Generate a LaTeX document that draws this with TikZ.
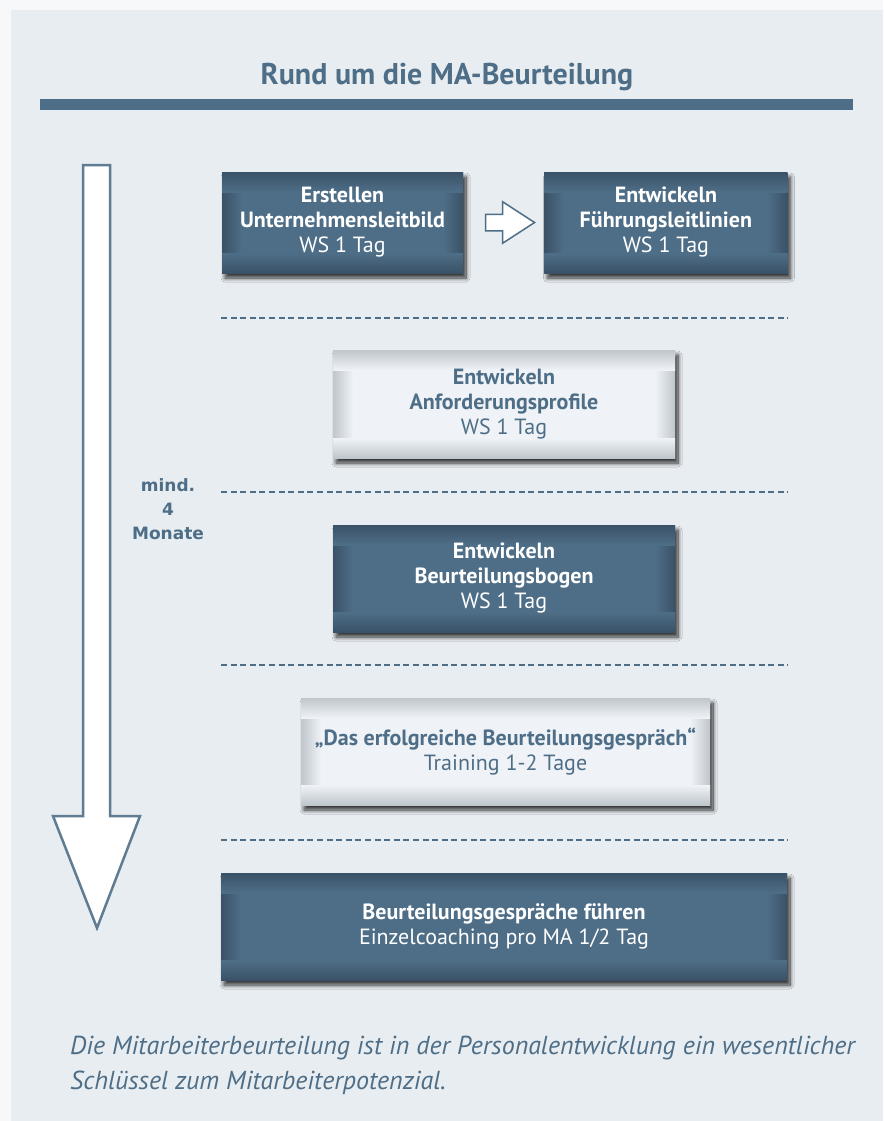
\documentclass[tikz,border=0pt]{standalone}
\usepackage{fontspec}
\setmainfont{PT Sans}
\newfontfamily\monatefont{DejaVu Sans}
\usetikzlibrary{positioning}
\usetikzlibrary{calc}
\usetikzlibrary{shapes.arrows}
\usetikzlibrary{shadows.blur}
\definecolor{slate}{HTML}{4E6E87}
\definecolor{slatedark}{HTML}{3A5267}
\definecolor{panel}{HTML}{E8EDF1}
\definecolor{outerbg}{HTML}{F6F8FA}
\definecolor{lightbox}{HTML}{EFF3F7}
\definecolor{lightedge}{HTML}{BFC6CC}
\tikzset{
  bevel/.style 2 args={path picture={
      \path (path picture bounding box.south west) coordinate (ppsw)
            (path picture bounding box.north east) coordinate (ppne);
      \shade[left color=#1,right color=#2] (ppsw) rectangle ($(ppsw |- ppne)+(20pt,0pt)$);
      \shade[left color=#2,right color=#1] ($(ppne |- ppsw)+(-20pt,0pt)$) rectangle (ppne);
      \shade[top color=#1,bottom color=#2] ($(ppsw |- ppne)+(0pt,-20pt)$) rectangle (ppne);
      \shade[top color=#2,bottom color=#1] (ppsw) rectangle ($(ppne |- ppsw)+(0pt,20pt)$);
  }},
  dark box/.style={rectangle,fill=slate,bevel={slatedark}{slate},text=white,align=center,inner sep=0pt,
    font=\fontsize{22}{25}\selectfont,
    blur shadow={shadow xshift=3pt,shadow yshift=-5pt,shadow blur steps=10,shadow blur radius=4pt,shadow opacity=80}},
  light box/.style={rectangle,fill=lightbox,bevel={lightedge}{lightbox},text=slate,align=center,inner sep=0pt,
    font=\fontsize{22}{25}\selectfont,
    blur shadow={shadow xshift=3pt,shadow yshift=-5pt,shadow blur steps=10,shadow blur radius=4pt,shadow opacity=80}},
  trenner/.style={slate,line width=2pt,dash pattern=on 6pt off 3.6pt},
}

\begin{document}
\begin{tikzpicture}[x=1pt,y=-1pt]
    \useasboundingbox (0,0) rectangle (883,1121);
    \fill[outerbg] (0,0) rectangle (883,1121);
    \fill[panel] (11,10) rectangle (883,1121);

    % Titel
    \node[anchor=base,text=slate,font=\fontsize{30}{34}\selectfont\bfseries] (titel) at (447,85) {Rund um die MA-Beurteilung};
    \fill[slate] (40,99) rectangle (853,110);

    % Zeitpfeil
    \draw[slate!90,line width=2.5pt,fill=white,line join=miter]
      (83,165) -- (110,165) -- (110,816) -- (140,816) -- (97,928) -- (53,816) -- (83,816) -- cycle;
    \node[text=slate,align=center,font=\fontsize{17}{24}\selectfont\monatefont\bfseries] (dauer) at (168,509) {mind.\\4\\Monate};

    % Schritte
    \node[dark box,minimum width=241pt,minimum height=101pt] (leitbild) at (342.5,222.5)
      {\textbf{Erstellen}\\\textbf{Unternehmensleitbild}\\WS 1 Tag};
    \node[dark box,minimum width=243pt,minimum height=101pt] (fuehrung) [right=81pt of leitbild]
      {\textbf{Entwickeln}\\\textbf{Führungsleitlinien}\\WS 1 Tag};
    \node[single arrow,draw=slate,fill=white,line width=1.5pt,minimum height=49pt,inner sep=0pt,
      single arrow head extend=12.5pt,single arrow tip angle=66] (pfeil) at ($(leitbild.east)!0.5!(fuehrung.west)$) {\rule{0pt}{15pt}};

    \node[light box,minimum width=342pt,minimum height=108pt] (profile) at (504,404)
      {\textbf{Entwickeln}\\\textbf{Anforderungsprofile}\\WS 1 Tag};
    \node[dark box,minimum width=342pt,minimum height=107pt] (bogen) at (504,578.5)
      {\textbf{Entwickeln}\\\textbf{Beurteilungsbogen}\\WS 1 Tag};
    \node[light box,minimum width=409pt,minimum height=107pt] (training) at (505.5,751.5)
      {\textbf{„Das erfolgreiche Beurteilungsgespräch“}\\Training 1-2 Tage};
    \node[dark box,minimum width=566pt,minimum height=107pt] (gespraech) at (504,926.5)
      {\textbf{Beurteilungsgespräche führen}\\Einzelcoaching pro MA 1/2 Tag};

    % Trennlinien
    \foreach \y in {318,492,665,840}
      \draw[trenner] (221,\y) -- (788,\y);

    % Fazit
    \node[anchor=north west,inner sep=0pt,align=left,text=slate,font=\fontsize{26}{35}\selectfont\itshape] (fazit) at (70,1036)
      {Die Mitarbeiterbeurteilung ist in der Personalentwicklung ein wesentlicher\\Schlüssel zum Mitarbeiterpotenzial.};
\end{tikzpicture}
\end{document}
